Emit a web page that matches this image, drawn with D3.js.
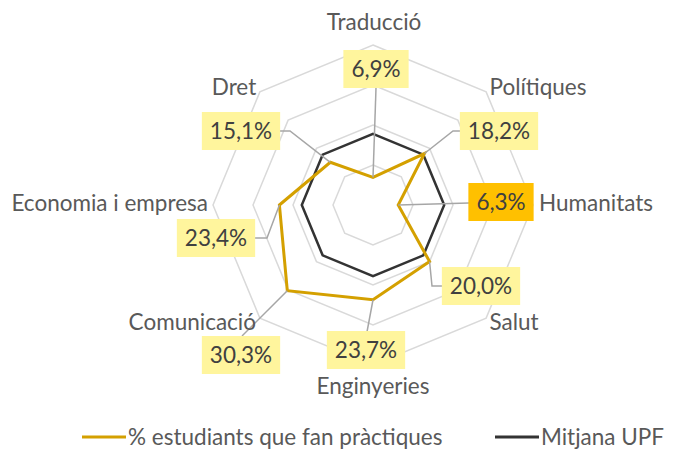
<!DOCTYPE html>
<html>
<head>
<meta charset="utf-8">
<script src="https://cdn.jsdelivr.net/npm/d3@7"></script>
<style>
  body { margin: 0; background: #fff; }
  svg text { font-family: Lato, "Open Sans", sans-serif; }
</style>
</head>
<body>
<svg width="673" height="450"></svg>
<script>
const categories = ["Traducció", "Polítiques", "Humanitats", "Salut", "Enginyeries", "Comunicació", "Economia i empresa", "Dret"];
const practiques = [6.9, 18.2, 6.3, 20.0, 23.7, 30.3, 23.4, 15.1];
const mitjana = [17.8, 17.8, 17.8, 17.8, 17.8, 17.8, 17.8, 17.8];
const gridTicks = [10, 20, 30, 40];
const seriesNames = ["% estudiants que fan pràctiques", "Mitjana UPF"];

const cx = 373, cy = 205, outerRadius = 160;
const orange = "#D4A000", dark = "#333333";
const fontSize = 22.5;

// label placement: box centre, and leader route (elbow / attach point)
const boxLayout = [
  {bx: 376, by: 69,  route: [[376, 88]]},
  {bx: 499, by: 131, route: [[453, 131], [467, 131]]},
  {bx: 501, by: 202, route: [[469, 203]], highlight: true},
  {bx: 481, by: 286, route: [[432, 286], [443, 286]]},
  {bx: 366, by: 350, route: [[367, 332]]},
  {bx: 241, by: 355, route: [[242, 336]]},
  {bx: 216, by: 238, route: [[267, 238], [254, 238]]},
  {bx: 241, by: 131, route: [[290, 131], [279, 131]]}
];
const catLabelPos = [
  {x: 374, y: 30, anchor: "middle"},
  {x: 538, y: 95, anchor: "middle"},
  {x: 539, y: 211, anchor: "start"},
  {x: 514, y: 330, anchor: "middle"},
  {x: 373, y: 394, anchor: "middle"},
  {x: 256, y: 330, anchor: "end"},
  {x: 208, y: 211, anchor: "end"},
  {x: 234, y: 95, anchor: "middle"}
];

var svg = d3.select("svg");
var r = d3.scaleLinear().domain([0, 40]).range([0, outerRadius]);
var angle = d3.scalePoint().domain(categories).range([0, 2 * Math.PI * (categories.length - 1) / categories.length]);

function pointAt(cat, v) {
  var a = angle(cat);
  return [cx + r(v) * Math.sin(a), cy - r(v) * Math.cos(a)];
}

var g = svg.append("g").attr("transform", "translate(" + cx + "," + cy + ")");

var radial = d3.lineRadial()
  .angle(function(d) { return angle(d.cat); })
  .radius(function(d) { return r(d.v); })
  .curve(d3.curveLinearClosed);

// grid octagons
g.selectAll(".grid")
  .data(gridTicks)
  .enter().append("path")
  .attr("class", "grid")
  .attr("d", function(t) { return radial(categories.map(function(c) { return {cat: c, v: t}; })); })
  .attr("fill", "none")
  .attr("stroke", "#d9d9d9")
  .attr("stroke-width", 1.5);

// leader lines
svg.selectAll(".leader")
  .data(categories)
  .enter().append("polyline")
  .attr("class", "leader")
  .attr("points", function(c, i) {
    return [pointAt(c, practiques[i])].concat(boxLayout[i].route).map(function(p) { return p.join(","); }).join(" ");
  })
  .attr("fill", "none")
  .attr("stroke", "#a6a6a6")
  .attr("stroke-width", 1.5);

// series
g.append("path")
  .attr("d", radial(categories.map(function(c, i) { return {cat: c, v: mitjana[i]}; })))
  .attr("fill", "none")
  .attr("stroke", dark)
  .attr("stroke-width", 2.5)
  .attr("stroke-linejoin", "miter");

g.append("path")
  .attr("d", radial(categories.map(function(c, i) { return {cat: c, v: practiques[i]}; })))
  .attr("fill", "none")
  .attr("stroke", orange)
  .attr("stroke-width", 3)
  .attr("stroke-linejoin", "miter");

// value boxes
var boxes = svg.selectAll(".vbox")
  .data(categories)
  .enter().append("g")
  .attr("class", "vbox")
  .attr("transform", function(c, i) { return "translate(" + boxLayout[i].bx + "," + boxLayout[i].by + ")"; });

boxes.append("rect")
  .attr("y", -19)
  .attr("height", 38)
  .attr("fill", function(c, i) { return boxLayout[i].highlight ? "#FFC000" : "#FFF59D"; });

boxes.append("text")
  .attr("text-anchor", "middle")
  .attr("dy", "0.36em")
  .attr("font-size", fontSize)
  .attr("fill", "#404040")
  .text(function(c, i) { return d3.format(".1f")(practiques[i]).replace(".", ",") + "%"; });

boxes.each(function() {
  var sel = d3.select(this);
  var w = sel.select("text").node().getBBox().width + 16;
  sel.select("rect").attr("x", -w / 2).attr("width", w);
});

// category labels
svg.selectAll(".cat")
  .data(categories)
  .enter().append("text")
  .attr("class", "cat")
  .attr("x", function(c, i) { return catLabelPos[i].x; })
  .attr("y", function(c, i) { return catLabelPos[i].y; })
  .attr("text-anchor", function(c, i) { return catLabelPos[i].anchor; })
  .attr("font-size", fontSize)
  .attr("fill", "#595959")
  .text(function(c) { return c; });

// legend
var legend = svg.append("g").attr("class", "legend");
var legendX = [82, 495];
var legendColors = [orange, dark];
seriesNames.forEach(function(name, i) {
  legend.append("line")
    .attr("x1", legendX[i]).attr("x2", legendX[i] + 44)
    .attr("y1", 437).attr("y2", 437)
    .attr("stroke", legendColors[i])
    .attr("stroke-width", 3);
  legend.append("text")
    .attr("x", legendX[i] + 46)
    .attr("y", 445)
    .attr("font-size", fontSize)
    .attr("fill", "#595959")
    .text(name);
});
</script>
</body>
</html>
